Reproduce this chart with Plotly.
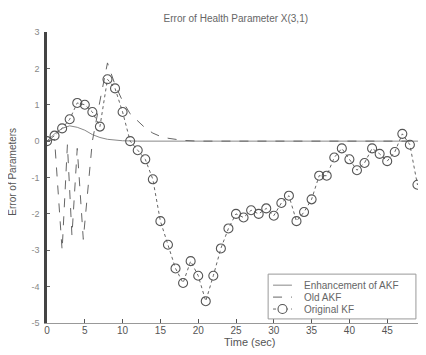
import plotly.graph_objects as go

# Enhancement of AKF
t_enh = [0, 1, 2, 3, 4, 5, 6, 7, 8, 9, 10, 12, 15, 20, 25, 30, 35, 40, 45, 50]
v_enh = [0, 0.2, 0.35, 0.42, 0.38, 0.3, 0.18, 0.1, 0.05, 0.02, 0.01, 0, 0, 0, 0, 0, 0, 0, 0, 0]

# Old AKF
t_old = [0, 1, 2, 2.7, 3.3, 4, 4.8, 6, 7, 8, 9, 10, 11, 12, 13, 14, 15, 16, 17, 18, 20, 25, 30, 35, 40, 45, 50]
v_old = [0, 0.05, -3.0, -0.1, -2.6, -0.2, -2.7, 0.0, 1.1, 2.15, 1.55, 1.1, 0.75, 0.55, 0.36, 0.22, 0.13, 0.08,
         0.04, 0.02, 0.0, 0, 0, 0, 0, 0, 0]

# Original KF
t_kf = list(range(0, 51))
v_kf = [0, 0.15, 0.35, 0.6, 1.05, 1.0, 0.8, 0.4, 1.7, 1.45, 0.8, 0.0, -0.25, -0.5, -1.05, -2.2, -2.85,
        -3.5, -3.9, -3.3, -3.7, -4.4, -3.7, -2.95, -2.4, -2.0, -2.1, -1.9, -2.0, -1.85, -2.05, -1.7,
        -1.5, -2.2, -1.95, -1.6, -0.95, -0.95, -0.45, -0.2, -0.5, -0.8, -0.6, -0.2, -0.35, -0.55,
        -0.3, 0.2, -0.1, -1.2, -0.75]

x_ticks = [0, 5, 10, 15, 20, 25, 30, 35, 40, 45, 50]
y_ticks = [-5, -4, -3, -2, -1, 0, 1, 2, 3]
legend_names = ["Enhancement of AKF", "Old AKF", "Original KF"]

c_enh, c_old, c_kf = "#888888", "#666666", "#666666"

fig = go.Figure()
fig.add_trace(go.Scatter(x=t_enh, y=v_enh, mode="lines", name=legend_names[0],
                         line=dict(color=c_enh, width=1)))
fig.add_trace(go.Scatter(x=t_old, y=v_old, mode="lines", name=legend_names[1],
                         line=dict(color=c_old, width=1, dash="dash")))
fig.add_trace(go.Scatter(x=t_kf, y=v_kf, mode="lines+markers", name=legend_names[2],
                         line=dict(color=c_kf, width=1, dash="dot"),
                         marker=dict(symbol="circle-open", size=9, color="#555555",
                                     line=dict(width=1.1))))

# manual compact legend (paper coordinates)
lx0, lx1, ly0, ly1 = 0.585, 0.976, 0.014, 0.168
item_y = [0.130, 0.089, 0.048]
sx0, sx1, tx = 0.598, 0.648, 0.675
shapes = [dict(type="rect", xref="paper", yref="paper", x0=lx0, x1=lx1, y0=ly0, y1=ly1,
               line=dict(color="#999999", width=1), fillcolor="white", layer="above")]
styles = [dict(color=c_enh, width=1), dict(color=c_old, width=1, dash="dash"),
          dict(color=c_kf, width=1, dash="dot")]
for yy, st in zip(item_y, styles):
    shapes.append(dict(type="line", xref="paper", yref="paper", x0=sx0, x1=sx1, y0=yy, y1=yy,
                       line=st, layer="above"))
shapes.append(dict(type="circle", xref="paper", yref="paper", xsizemode="pixel", ysizemode="pixel",
                   xanchor=(sx0 + sx1) / 2, yanchor=item_y[2], x0=-4.5, x1=4.5, y0=-4.5, y1=4.5,
                   line=dict(color="#555555", width=1.1), fillcolor="white", layer="above"))

font_c = "#555555"
annotations = [
    dict(text="Time (sec)", xref="paper", yref="paper", x=0.537, y=0, yshift=-19,
         xanchor="center", yanchor="middle", showarrow=False,
         font=dict(size=11, color=font_c)),
    dict(text="Error of Parameters", xref="paper", yref="paper", x=0, y=0.52,
         xshift=-34, xanchor="center", yanchor="middle", textangle=-90,
         showarrow=False, font=dict(size=10, color=font_c)),
]
for yy, nm in zip(item_y, legend_names):
    annotations.append(dict(text=nm, xref="paper", yref="paper", x=tx, y=yy, xanchor="left",
                            yanchor="middle", showarrow=False,
                            font=dict(size=10, color="#666666")))

fig.update_layout(
    width=418, height=347,
    margin=dict(l=39, r=1, t=24, b=32, autoexpand=False),
    paper_bgcolor="white", plot_bgcolor="white",
    font=dict(family="Liberation Sans, Arial", size=9, color=font_c),
    title=dict(text="Error of Health Parameter X(3,1)", x=0.545, xanchor="center",
               xref="container", y=0.971, yref="container", yanchor="middle",
               font=dict(size=10, color="#666666")),
    showlegend=False,
    shapes=shapes,
    annotations=annotations,
    xaxis=dict(range=[0, 50], tickvals=x_ticks, ticktext=[str(v) for v in x_ticks],
               showgrid=False, zeroline=False, showline=True, linecolor="#999999",
               linewidth=1, ticks="inside", ticklen=4, tickcolor="#555555",
               tickfont=dict(size=10, color=font_c), automargin=False,
               ticklabelstandoff=-2),
    yaxis=dict(range=[-5, 3], tickvals=y_ticks, ticktext=[str(v) for v in y_ticks],
               showgrid=False, zeroline=False, showline=True, linecolor="#444444",
               linewidth=2.5, ticks="inside", ticklen=3, tickcolor="#666666",
               tickfont=dict(size=9, color="#888888"), automargin=False,
               ticklabelstandoff=3),
)

fig.write_html("out.html")
